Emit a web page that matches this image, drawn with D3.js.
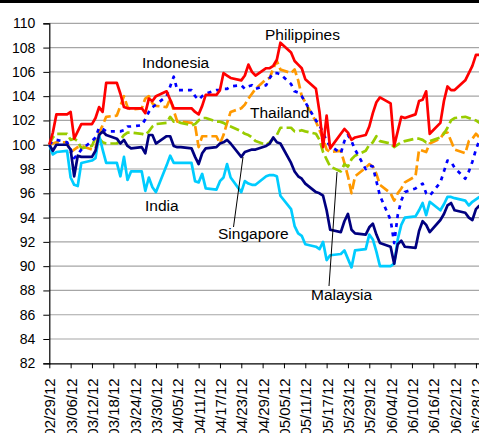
<!DOCTYPE html>
<html>
<head>
<meta charset="utf-8">
<script src="https://cdn.jsdelivr.net/npm/d3@7"></script>
<style>
  body { margin: 0; background: #fff; }
  svg { display: block; font-family: Arial, "Liberation Sans", sans-serif; }
</style>
</head>
<body>
<svg width="479" height="433"></svg>
<script>
// trading days, 2012
var dates = [
  "02/29",
  "03/01","03/02",
  "03/05","03/06","03/07","03/08","03/09",
  "03/12","03/13","03/14","03/15","03/16",
  "03/19","03/20","03/21","03/22","03/23",
  "03/26","03/27","03/28","03/29","03/30",
  "04/02","04/03","04/04","04/05","04/06",
  "04/09","04/10","04/11","04/12","04/13",
  "04/16","04/17","04/18","04/19","04/20",
  "04/23","04/24","04/25","04/26","04/27",
  "04/30","05/01","05/02","05/03","05/04",
  "05/07","05/08","05/09","05/10","05/11",
  "05/14","05/15","05/16","05/17","05/18",
  "05/21","05/22","05/23","05/24","05/25",
  "05/28","05/29","05/30","05/31","06/01",
  "06/04","06/05","06/06","06/07","06/08",
  "06/11","06/12","06/13","06/14","06/15",
  "06/18","06/19","06/20","06/21","06/22",
  "06/25","06/26","06/27","06/28","06/29"
];

var philippines = [
  100.0, 101.0, 102.5,
  102.5, 102.7, 100.5, 101.1, 101.7,
  101.7, 102.2, 103.1, 102.7, 105.1,
  105.1, 104.2, 103.1, 103.0, 103.0,
  103.0, 102.6, 103.8, 103.6, 104.0,
  104.4, 103.7, 103.0, 103.0, 103.0,
  103.0, 102.7, 102.5, 103.2, 104.1,
  104.1, 104.5, 105.9, 105.7, 105.5,
  105.3, 105.7, 106.6, 106.0, 105.7,
  106.3, 106.3, 106.5, 107.0, 108.4,
  107.6, 106.9, 106.6, 106.3, 105.4,
  104.6, 102.7, 99.8, 102.4, 99.7,
  100.9, 101.3, 101.0, 100.4, 100.6,
  100.8, 101.5, 102.6, 103.5, 103.9,
  103.4, 99.9, 101.1, 102.3, 102.2,
  102.5, 103.6, 103.7, 104.4, 100.9,
  101.8, 103.6, 104.8, 104.5, 104.5,
  105.3, 105.9, 106.5, 107.4, 107.4
];

var indonesia = [
  100.0, 100.3, 100.4,
  100.2, 99.6, 98.9, 99.2, 99.6,
  100.3, 100.6, 101.4, 101.3, 101.1,
  101.1, 101.1, 101.2, 101.5, 101.5,
  101.6, 102.1, 102.7, 103.1, 103.3,
  104.0, 104.8, 105.6, 104.5, 104.5,
  104.5, 104.0, 103.7, 104.0, 104.2,
  104.5, 104.5, 104.6, 104.6, 104.8,
  104.9, 104.6, 104.8, 104.9, 104.6,
  104.9, 105.5, 105.9, 105.9, 105.8,
  105.0, 104.4, 104.3, 104.0, 103.5,
  102.0, 101.6, 101.0, 100.3, 99.9,
  99.3, 100.3, 100.8, 100.3, 99.6,
  98.0, 98.3, 98.2, 97.0, 95.8,
  93.8, 91.9, 94.2, 95.4, 96.1,
  96.4, 96.6, 96.8, 96.0, 95.8,
  96.9, 97.8, 98.7, 98.6, 98.1,
  97.2, 97.8, 98.6, 99.6, 100.4
];

var thailand = [
  100.0, 100.1, 100.2,
  100.2, 99.4, 99.6, 99.8, 99.9,
  99.6, 99.7, 101.0, 101.6, 102.3,
  102.4, 103.2, 104.0, 103.1, 102.9,
  103.0, 103.8, 104.0, 103.4, 103.2,
  103.1, 103.8, 102.8, 101.9, 101.9,
  101.8, 101.6, 99.8, 100.7, 100.7,
  100.7, 100.1, 100.8, 101.8, 102.7,
  103.0, 103.3, 103.8, 104.2, 104.6,
  105.4, 105.5, 106.3, 106.9, 106.2,
  105.9, 106.2, 105.3, 104.0, 103.5,
  101.9, 101.2, 100.5, 99.6, 99.4,
  99.5, 98.5, 97.4, 96.0, 97.4,
  98.1, 98.4, 98.2, 97.6, 96.7,
  96.0, 95.4, 96.0, 96.4, 96.9,
  97.4, 99.6, 99.5, 99.4, 100.1,
  100.5, 101.0, 101.0, 100.3, 99.6,
  99.3, 100.3, 100.5, 100.9, 100.6
];

var malaysia = [
  100.0, 100.6, 100.9,
  100.9, 100.4, 100.5, 100.3, 99.7,
  99.9, 100.6, 100.5, 100.2, 100.1,
  100.1, 100.4, 100.8, 101.0, 101.0,
  100.9, 100.8, 101.1, 101.5, 101.7,
  101.8, 102.3, 101.9, 101.9, 101.8,
  101.6, 101.7, 102.0, 102.2, 102.2,
  101.9, 101.9, 101.8, 101.6, 101.5,
  101.1, 100.9, 100.8, 100.6, 100.3,
  100.0, 100.2, 100.5, 100.8, 101.4,
  101.4, 101.1, 101.1, 101.2, 101.1,
  100.9, 100.4, 99.4, 98.8, 98.2,
  97.8, 98.4, 98.2, 98.8, 99.1,
  99.5, 100.0, 100.2, 100.7, 100.3,
  100.1, 99.8, 100.0, 100.2, 100.3,
  100.5, 100.5, 100.4, 100.2, 100.3,
  100.6, 100.9, 101.4, 102.0, 102.2,
  102.3, 102.2, 102.1, 102.0, 101.8
];

var singapore = [
  100.0, 99.5, 100.0,
  100.0, 99.6, 97.4, 99.1, 99.0,
  99.0, 99.5, 100.8, 101.1, 100.8,
  100.5, 100.1, 100.4, 99.9, 99.7,
  99.8, 99.3, 100.8, 100.8, 100.1,
  100.7, 100.7, 99.9, 99.8, 99.8,
  99.7, 99.0, 98.4, 99.3, 99.7,
  99.8, 100.1, 100.2, 100.4, 100.1,
  99.0, 99.4, 99.5, 99.6, 99.6,
  99.9, 100.1, 100.6, 100.2, 100.1,
  98.5, 97.8, 97.4, 97.2, 96.8,
  96.1, 96.0, 95.8, 94.6, 93.0,
  92.8, 93.7, 94.3, 93.0, 92.7,
  92.6, 93.2, 93.5, 92.6, 91.9,
  91.6, 90.2, 91.8, 92.1, 91.6,
  91.5, 92.9, 93.7, 93.4, 92.8,
  93.8, 94.3, 95.0, 95.2, 94.6,
  94.4, 94.0, 93.8, 94.7, 95.0
];

var india = [
  100.0, 99.2, 99.4,
  99.5, 97.3, 96.7, 96.6, 98.5,
  98.7, 98.9, 100.8, 99.6, 98.5,
  98.5, 97.4, 99.0, 97.1, 97.8,
  97.8, 96.2, 97.3, 96.5, 96.1,
  98.3, 99.1, 98.5, 98.5, 98.5,
  98.5, 97.0, 96.9, 97.6, 96.4,
  96.3, 97.0, 97.3, 98.4, 97.3,
  96.1, 97.0, 96.8, 96.7, 96.7,
  97.4, 97.5, 97.5, 97.4, 95.8,
  94.7, 93.3, 92.7, 92.5, 91.8,
  91.6, 91.4, 92.0, 90.5, 90.9,
  91.0, 91.3, 90.6, 89.9, 91.3,
  91.4, 92.6, 92.2, 91.2, 90.0,
  90.0, 90.2, 92.2, 93.4, 94.0,
  94.1, 94.6, 95.2, 94.2, 95.3,
  94.6, 95.1, 95.7, 95.7, 95.6,
  95.4, 95.0, 95.3, 95.5, 95.7
];

var tickLabels = ["02/29/12","03/06/12","03/12/12","03/18/12","03/24/12","03/30/12",
  "04/05/12","04/11/12","04/17/12","04/23/12","04/29/12","05/05/12","05/11/12",
  "05/17/12","05/23/12","05/29/12","06/04/12","06/10/12","06/16/12","06/22/12","06/28/12"];

var yTicks = [82, 84, 86, 88, 90, 92, 94, 96, 98, 100, 102, 104, 106, 108, 110];

var svg = d3.select("svg"),
    width = +svg.attr("width"),
    height = +svg.attr("height");

var parseDay = d3.utcParse("%m/%d/%Y");
var parseTick = d3.utcParse("%m/%d/%y");
var days = dates.map(function (s) { return parseDay(s + "/2012"); });

var x = d3.scaleUtc()
    .domain([parseDay("02/29/2012"), parseDay("06/29/2012")])
    .range([49.3, 479.5]);

var y = d3.scaleLinear()
    .domain([82, 110])
    .range([363.3, 23.3]);

// strip at the top of the picture
svg.append("rect")
    .attr("x", 0).attr("y", 0)
    .attr("width", width).attr("height", 3)
    .attr("fill", "#000");

// gridlines
svg.append("g")
    .selectAll("line")
    .data(yTicks.slice(1))
    .enter().append("line")
    .attr("x1", 49.3).attr("x2", width)
    .attr("y1", function (d) { return y(d); })
    .attr("y2", function (d) { return y(d); })
    .attr("stroke", "#a6a6a6")
    .attr("stroke-width", 1.2);

// y axis
var yAxis = svg.append("g")
    .attr("transform", "translate(49.3,0)")
    .call(d3.axisLeft(y).tickValues(yTicks).tickSize(6).tickPadding(8).tickFormat(d3.format("d")));
yAxis.select(".domain").attr("stroke", "#000").attr("stroke-width", 1.2);
yAxis.selectAll(".tick line").attr("stroke", "#000");
yAxis.selectAll("text")
    .attr("font-size", 14)
    .attr("font-family", "Arial, 'Liberation Sans', sans-serif")
    .attr("fill", "#000");

// x axis
var xTickDates = tickLabels.map(function (s) { return parseTick(s); });
var xAxis = svg.append("g")
    .attr("transform", "translate(0,363.3)")
    .call(d3.axisBottom(x).tickValues(xTickDates).tickSize(5).tickSizeOuter(0)
        .tickFormat(function (d, i) { return tickLabels[i]; }));
xAxis.select(".domain").attr("stroke", "#000").attr("stroke-width", 1.2)
    .attr("d", "M49.3,0.5H" + width);
xAxis.selectAll(".tick line").attr("stroke", "#000");
xAxis.selectAll("text")
    .attr("font-size", 15)
    .attr("font-family", "Arial, 'Liberation Sans', sans-serif")
    .attr("fill", "#000")
    .attr("text-anchor", "end")
    .attr("transform", "rotate(-90)")
    .attr("x", -15)
    .attr("y", 0)
    .attr("dy", "0.36em");

// series, drawn back to front
var series = [
  {name: "Thailand", values: thailand, color: "#FF9900", dash: "10,4"},
  {name: "Malaysia", values: malaysia, color: "#99CC00", dash: "10,4"},
  {name: "Indonesia", values: indonesia, color: "#0000FF", dash: "4,5"},
  {name: "India", values: india, color: "#00CCFF", dash: null},
  {name: "Singapore", values: singapore, color: "#000080", dash: null},
  {name: "Philippines", values: philippines, color: "#FF0000", dash: null}
];

var line = d3.line()
    .x(function (d, i) { return x(days[i]); })
    .y(function (d) { return y(d); });

svg.append("g")
    .selectAll("path")
    .data(series)
    .enter().append("path")
    .attr("d", function (d) { return line(d.values); })
    .attr("fill", "none")
    .attr("stroke", function (d) { return d.color; })
    .attr("stroke-width", 2.7)
    .attr("stroke-linejoin", "round")
    .attr("stroke-dasharray", function (d) { return d.dash; });

// labels and leader lines
var labels = svg.append("g")
    .attr("font-size", 15.5)
    .attr("fill", "#000");

labels.append("text").attr("x", 265).attr("y", 40).text("Philippines");
labels.append("text").attr("x", 142).attr("y", 68).text("Indonesia");
labels.append("text").attr("x", 250).attr("y", 118).text("Thailand");
labels.append("text").attr("x", 145).attr("y", 211).text("India");
labels.append("text").attr("x", 218).attr("y", 238.5).text("Singapore");
labels.append("text").attr("x", 311).attr("y", 299.5).text("Malaysia");

svg.append("line")
    .attr("x1", 233.5).attr("y1", 227).attr("x2", 243).attr("y2", 157)
    .attr("stroke", "#000").attr("stroke-width", 1);
svg.append("line")
    .attr("x1", 329).attr("y1", 286).attr("x2", 337).attr("y2", 172)
    .attr("stroke", "#000").attr("stroke-width", 1);
</script>
</body>
</html>
